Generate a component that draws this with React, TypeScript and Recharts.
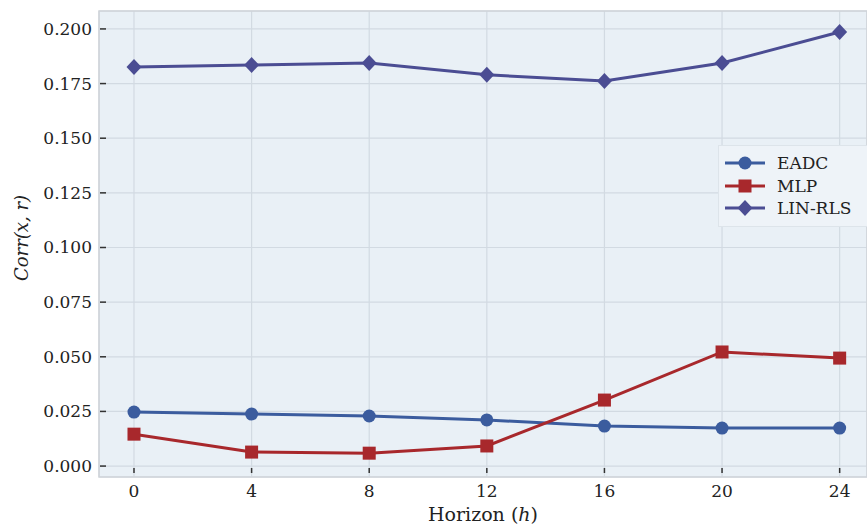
import React from 'react';
import { LineChart, Line, XAxis, YAxis, CartesianGrid, ReferenceArea } from 'recharts';

const horizons = [0, 4, 8, 12, 16, 20, 24];
const eadc = [0.0247, 0.0238, 0.0229, 0.0211, 0.0183, 0.0174, 0.0174];
const mlp = [0.0146, 0.0064, 0.0059, 0.0092, 0.0302, 0.0522, 0.0494];
const linRls = [0.1826, 0.1835, 0.1844, 0.179, 0.1762, 0.1844, 0.1986];
const yTicks = [0, 0.025, 0.05, 0.075, 0.1, 0.125, 0.15, 0.175, 0.2];

const X_DOMAIN = [-1.19, 24.93];
const Y_DOMAIN = [-0.005, 0.2082];

const FONT = '"DejaVu Serif", serif';
const TEXT = '#222';

const series = [
    { key: 'eadc', name: 'EADC', color: '#3b5c9e', shape: 'circle' },
    { key: 'mlp', name: 'MLP', color: '#a8282c', shape: 'square' },
    { key: 'lin', name: 'LIN-RLS', color: '#4b4d93', shape: 'diamond' },
];

const data = horizons.map((h, i) => ({ h, eadc: eadc[i], mlp: mlp[i], lin: linRls[i] }));

const Marker = ({ shape, cx, cy, color }: { shape: string; cx: number; cy: number; color: string }) => {
    if (shape === 'square') {
        return <rect x={cx - 6.5} y={cy - 6.5} width={13} height={13} fill={color} />;
    }
    if (shape === 'diamond') {
        return <polygon points={`${cx},${cy - 8} ${cx + 7.5},${cy} ${cx},${cy + 8} ${cx - 7.5},${cy}`} fill={color} />;
    }
    return <circle cx={cx} cy={cy} r={6.5} fill={color} />;
};

const makeDot = (shape: string, color: string) => (props: any) => (
    <Marker key={`${shape}-${props.index}`} shape={shape} cx={props.cx} cy={props.cy} color={color} />
);

// ticks sit just inside the frame, labels outside
const XTick = (props: any) => {
    const { x, payload } = props;
    return (
        <g>
            <line x1={x} x2={x} y1={468} y2={473} stroke="#333" strokeWidth={1.5} />
            <text x={x} y={497} textAnchor="middle" fontFamily={FONT} fontSize={17} fill={TEXT}>
                {payload.value}
            </text>
        </g>
    );
};

const YTick = (props: any) => {
    const { y, payload } = props;
    return (
        <g>
            <line x1={100} x2={106} y1={y} y2={y} stroke="#333" strokeWidth={1.5} />
            <text x={92} y={y + 6} textAnchor="end" fontFamily={FONT} fontSize={17} fill={TEXT}>
                {payload.value.toFixed(3)}
            </text>
        </g>
    );
};

const LegendBox = () => (
    <div
        style={{
            position: 'absolute',
            top: 145,
            left: 718,
            width: 149,
            boxSizing: 'border-box',
            background: '#eef3f8',
            border: '1px solid #dde4ea',
            borderRight: 'none',
            padding: '6px 0 6px 4px',
            fontFamily: FONT,
            fontSize: 17,
            color: TEXT,
        }}
    >
        {series.map((s) => (
            <div key={s.key} style={{ display: 'flex', alignItems: 'center', height: 22.5 }}>
                <svg width={44} height={20} style={{ marginRight: 10 }}>
                    <line x1={2} x2={42} y1={10} y2={10} stroke={s.color} strokeWidth={3} />
                    <Marker shape={s.shape} cx={22} cy={10} color={s.color} />
                </svg>
                <span>{s.name}</span>
            </div>
        ))}
    </div>
);

export default function App() {
    return (
        <div style={{ position: 'absolute', left: 0, top: 0, width: 867, height: 528, background: '#fff' }}>
            <LineChart width={867} height={528} data={data} margin={{ top: 11, right: 0, bottom: 0, left: 0 }}>
                <CartesianGrid fill="#e9f0f6" stroke="#d2dae2" strokeWidth={1.2} />
                <ReferenceArea
                    x1={X_DOMAIN[0]}
                    x2={X_DOMAIN[1]}
                    y1={Y_DOMAIN[0]}
                    y2={Y_DOMAIN[1]}
                    fill="none"
                    stroke="#cfd4d9"
                    strokeWidth={1.5}
                    ifOverflow="visible"
                />
                <XAxis
                    dataKey="h"
                    type="number"
                    domain={X_DOMAIN}
                    ticks={horizons}
                    height={51}
                    axisLine={false}
                    tickLine={false}
                    tick={<XTick />}
                    allowDataOverflow
                    label={{
                        content: () => (
                            <text x={483} y={521} textAnchor="middle" fontFamily={FONT} fontSize={19} fill={TEXT}>
                                Horizon (<tspan fontStyle="italic">h</tspan>)
                            </text>
                        ),
                    }}
                />
                <YAxis
                    type="number"
                    domain={Y_DOMAIN}
                    ticks={yTicks}
                    width={99}
                    axisLine={false}
                    tickLine={false}
                    tick={<YTick />}
                    allowDataOverflow
                    label={{
                        content: () => (
                            <text
                                x={28}
                                y={238}
                                transform="rotate(-90 28 238)"
                                textAnchor="middle"
                                fontFamily={FONT}
                                fontSize={18}
                                fontStyle="italic"
                                fill={TEXT}
                            >
                                Corr(x, r)
                            </text>
                        ),
                    }}
                />
                {series.map((s) => (
                    <Line
                        key={s.key}
                        dataKey={s.key}
                        name={s.name}
                        stroke={s.color}
                        strokeWidth={3}
                        dot={makeDot(s.shape, s.color)}
                        activeDot={false}
                        isAnimationActive={false}
                    />
                ))}
            </LineChart>
            <LegendBox />
        </div>
    );
}
